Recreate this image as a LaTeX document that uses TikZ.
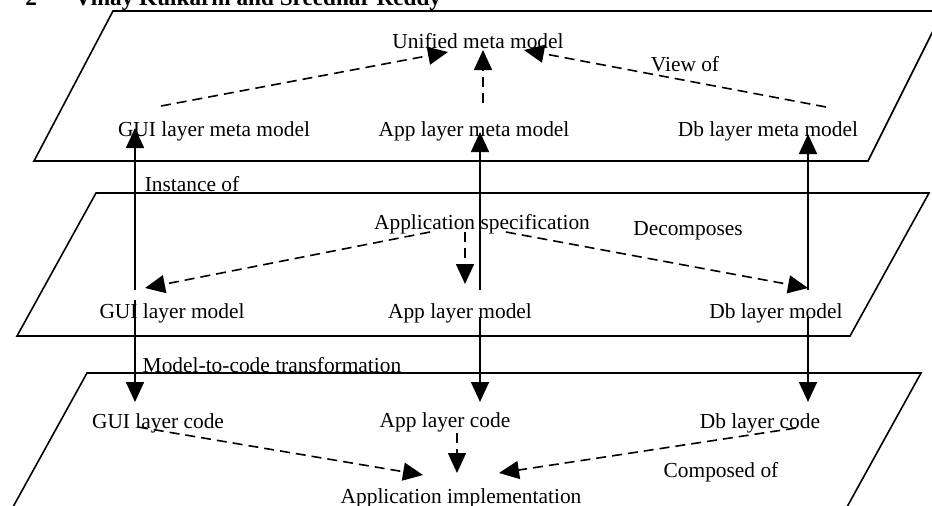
\documentclass[tikz,border=0pt]{standalone}
\usepackage{fontspec}
\setmainfont{Liberation Serif}
\usepackage{tikz}
\usetikzlibrary{arrows.meta}

\tikzset{
  lbl/.style={anchor=base, inner sep=0pt, font=\fontsize{10.7}{13}\selectfont},
  link/.style={line width=0.8pt, -{Triangle[length=10pt,width=9pt]}},
  viewlink/.style={link, dash pattern=on 5pt off 3pt}
}

\begin{document}
\begin{tikzpicture}[x=0.5pt,y=-0.5pt]
		\useasboundingbox (0,0) rectangle (932,505);
		\clip (0,0) rectangle (932,505);
		\def\metaplane{(113,11) -- (943,11) -- (868,161) -- (34,161) -- cycle}
		\def\modelplane{(96,193) -- (929,193) -- (850,336) -- (17,336) -- cycle}
		\def\codeplane{(87,373) -- (921,373) -- (842,516) -- (8,516) -- cycle}
		\draw[line width=0.8pt] \metaplane;
		\draw[line width=0.8pt] \modelplane;
		\draw[line width=0.8pt] \codeplane;
		\node[anchor=base west, inner sep=0pt, font=\fontsize{11.6}{14}\selectfont\bfseries] (head) at (25,5) {2\hspace{19pt}Vinay Kulkarni and Sreedhar Reddy};
		\node[lbl] (unif) at (478,48) {Unified meta model};
		\node[lbl] (viewof) at (685,71) {View of};
		\node[lbl] (guimm) at (214,136) {GUI layer meta model};
		\node[lbl] (appmm) at (474,136) {App layer meta model};
		\node[lbl] (dbmm) at (768,136) {Db layer meta model};
		\node[lbl] (inst) at (192,191) {Instance of};
		\node[lbl] (appspec) at (482,229) {Application specification};
		\node[lbl] (decomp) at (688,235) {Decomposes};
		\node[lbl] (guim) at (172,318) {GUI layer model};
		\node[lbl] (appm) at (460,318) {App layer model};
		\node[lbl] (dbm) at (776,318) {Db layer model};
		\node[lbl] (mtoc) at (272,372) {Model-to-code transformation};
		\node[lbl] (guic) at (158,428) {GUI layer code};
		\node[lbl] (appc) at (445,427) {App layer code};
		\node[lbl] (dbc) at (760,428) {Db layer code};
		\node[lbl] (compof) at (721,477) {Composed of};
		\node[lbl] (appimpl) at (461,503) {Application implementation};
		\coordinate (guimm-out) at (161,106);
		\coordinate (appmm-out) at (483,103);
		\coordinate (dbmm-out) at (826,107);
		\coordinate (unif-w) at (448,52);
		\coordinate (unif-s) at (483,50);
		\coordinate (unif-e) at (524,50);
		\coordinate (guimm-in) at (135,128);
		\coordinate (appmm-in) at (480,132);
		\coordinate (dbmm-in) at (808,134);
		\coordinate (guim-up) at (135,290);
		\coordinate (appm-up) at (480,290);
		\coordinate (dbm-up) at (808,290);
		\coordinate (spec-w) at (430,232);
		\coordinate (spec-s) at (465,232);
		\coordinate (spec-e) at (506,232);
		\coordinate (guim-in) at (145,288);
		\coordinate (appm-in) at (465,284);
		\coordinate (dbm-in) at (808,288);
		\coordinate (guim-down) at (135,300);
		\coordinate (appm-down) at (480,317);
		\coordinate (dbm-down) at (808,317);
		\coordinate (guic-in) at (135,402);
		\coordinate (appc-in) at (480,402);
		\coordinate (dbc-in) at (808,402);
		\coordinate (guic-out) at (138,427);
		\coordinate (appc-out) at (457,433);
		\coordinate (dbc-out) at (796,428);
		\coordinate (impl-w) at (423,475);
		\coordinate (impl-n) at (457,473);
		\coordinate (impl-e) at (499,473);
		\draw[viewlink] (guimm-out) -- (unif-w);
		\draw[viewlink] (appmm-out) -- (unif-s);
		\draw[viewlink] (dbmm-out) -- (unif-e);
		\draw[link] (guim-up) -- (guimm-in);
		\draw[link] (appm-up) -- (appmm-in);
		\draw[link] (dbm-up) -- (dbmm-in);
		\draw[viewlink] (spec-w) -- (guim-in);
		\draw[viewlink] (spec-s) -- (appm-in);
		\draw[viewlink] (spec-e) -- (dbm-in);
		\draw[link] (guim-down) -- (guic-in);
		\draw[link] (appm-down) -- (appc-in);
		\draw[link] (dbm-down) -- (dbc-in);
		\draw[viewlink] (guic-out) -- (impl-w);
		\draw[viewlink] (appc-out) -- (impl-n);
		\draw[viewlink] (dbc-out) -- (impl-e);
	\end{tikzpicture}
\end{document}
